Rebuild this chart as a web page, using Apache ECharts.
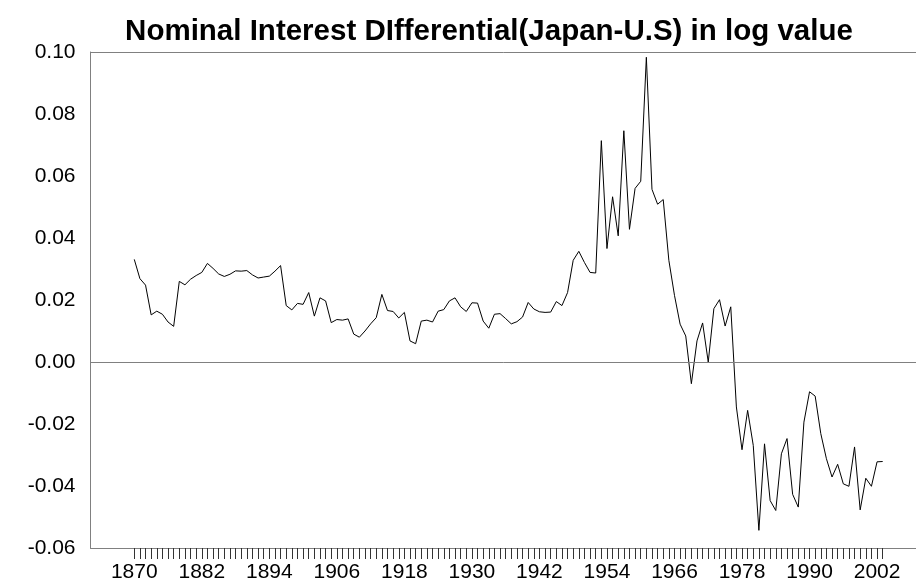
<!DOCTYPE html>
<html>
<head>
<meta charset="utf-8">
<script src="https://cdn.jsdelivr.net/npm/echarts@6/dist/echarts.min.js"></script>
<style>
  html, body { margin: 0; padding: 0; background: #fff; }
  #chart { width: 916px; height: 587px; }
</style>
</head>
<body>
<div id="chart"></div>
<script>
// yearly values, 1870 .. 2003
const firstYear = 1870;
const diffValues = [
    0.0331, 0.0269, 0.0248, 0.0152, 0.0164, 0.0154, 0.0129, 0.0115, 0.0260, 0.0249,
    0.0267, 0.0279, 0.0289, 0.0318, 0.0302, 0.0284, 0.0276, 0.0283, 0.0294, 0.0293,
    0.0295, 0.0281, 0.0271, 0.0274, 0.0277, 0.0293, 0.0311, 0.0182, 0.0168, 0.0189,
    0.0186, 0.0224, 0.0148, 0.0207, 0.0197, 0.0127, 0.0137, 0.0135, 0.0139, 0.0090,
    0.0080, 0.0100, 0.0123, 0.0143, 0.0218, 0.0166, 0.0163, 0.0142, 0.0160, 0.0068,
    0.0059, 0.0132, 0.0135, 0.0129, 0.0164, 0.0169, 0.0197, 0.0207, 0.0178, 0.0163,
    0.0191, 0.0190, 0.0132, 0.0109, 0.0154, 0.0156, 0.0140, 0.0123, 0.0130, 0.0145,
    0.0192, 0.0171, 0.0162, 0.0160, 0.0161, 0.0195, 0.0182, 0.0224, 0.0328, 0.0357,
    0.0321, 0.0289, 0.0287, 0.0714, 0.0366, 0.0533, 0.0407, 0.0746, 0.0428, 0.0560,
    0.0583, 0.0983, 0.0557, 0.0509, 0.0524, 0.0328, 0.0215, 0.0122, 0.0084, -0.0070,
    0.0068, 0.0126, 0.0000, 0.0172, 0.0201, 0.0116, 0.0178, -0.0145, -0.0283, -0.0156,
    -0.0269, -0.0543, -0.0264, -0.0447, -0.0479, -0.0296, -0.0247, -0.0427, -0.0468, -0.0194,
    -0.0096, -0.0110, -0.0231, -0.0312, -0.0371, -0.0330, -0.0393, -0.0401, -0.0274, -0.0477,
    -0.0375, -0.0401, -0.0322, -0.0321
];
const labelYears = [1870, 1882, 1894, 1906, 1918, 1930, 1942, 1954, 1966, 1978, 1990, 2002];
const refLines = [0, 0.10];

const FONT = 'Liberation Sans, Arial, sans-serif';
const AXIS_GRAY = '#808080';

let seriesData = diffValues.map((v, i) => [firstYear + i, v]);
let tickYears = diffValues.map((v, i) => firstYear + i);

let chart = echarts.init(document.getElementById('chart'), null, { renderer: 'canvas' });

let option = {
    animation: false,
    backgroundColor: '#ffffff',
    title: {
        text: 'Nominal Interest DIfferential(Japan-U.S) in log value',
        left: 484,
        top: 12,
        textAlign: 'center',
        textStyle: {
            fontFamily: FONT,
            fontSize: 29.5,
            fontWeight: 'bold',
            color: '#000'
        }
    },
    grid: {
        left: 90.5,
        right: 0,
        top: 52,
        bottom: 39,
        containLabel: false
    },
    xAxis: {
        type: 'value',
        min: 1862.22,
        max: 2008.92,
        splitLine: { show: false },
        axisLine: { show: true, onZero: false, lineStyle: { color: AXIS_GRAY, width: 1 } },
        axisTick: {
            show: true,
            customValues: tickYears,
            length: 11,
            lineStyle: { color: '#333', width: 1 }
        },
        axisLabel: {
            customValues: labelYears,
            margin: 14,
            color: '#000',
            fontFamily: FONT,
            fontSize: 21,
            formatter: v => String(v)
        }
    },
    yAxis: {
        type: 'value',
        min: -0.06,
        max: 0.10,
        interval: 0.02,
        splitLine: { show: false },
        axisLine: { show: true, lineStyle: { color: AXIS_GRAY, width: 1 } },
        axisTick: { show: false },
        axisLabel: {
            margin: 15,
            color: '#000',
            fontFamily: FONT,
            fontSize: 21,
            formatter: v => v.toFixed(2)
        }
    },
    series: [{
        type: 'line',
        data: seriesData,
        showSymbol: false,
        symbol: 'none',
        lineStyle: { color: '#000', width: 1 },
        markLine: {
            silent: true,
            symbol: ['none', 'none'],
            label: { show: false },
            lineStyle: { color: AXIS_GRAY, type: 'solid', width: 1 },
            data: refLines.map(v => ({ yAxis: v }))
        }
    }]
};

chart.setOption(option);
</script>
</body>
</html>
